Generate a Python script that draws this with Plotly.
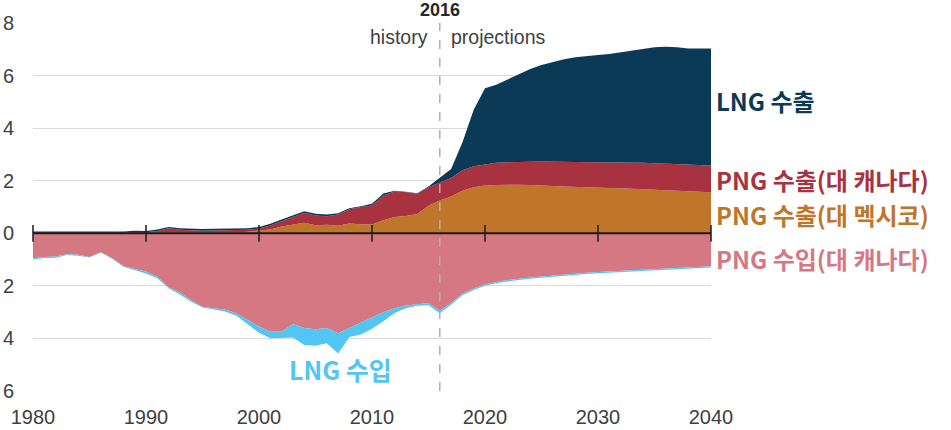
import plotly.graph_objects as go

years = list(range(1980, 2041))

# Exports (Tcf), positive stack
png_export_mexico = [
    0.02, 0.02, 0.02, 0.02, 0.0, 0.0, 0.0, 0.0, 0.0, 0.01,
    0.02, 0.03, 0.04, 0.03, 0.03, 0.03, 0.03, 0.03, 0.03, 0.06,
    0.10, 0.14, 0.26, 0.34, 0.40, 0.31, 0.32, 0.29, 0.37, 0.34,
    0.33, 0.50, 0.62, 0.66, 0.73, 1.05, 1.25, 1.40, 1.62, 1.75,
    1.82, 1.84, 1.85, 1.85, 1.84, 1.83, 1.80, 1.78, 1.76, 1.75,
    1.74, 1.72, 1.71, 1.70, 1.68, 1.66, 1.64, 1.62, 1.60, 1.58,
    1.56]
png_export_canada = [
    0.0, 0.0, 0.0, 0.0, 0.0, 0.0, 0.0, 0.0, 0.02, 0.04,
    0.02, 0.06, 0.15, 0.10, 0.08, 0.07, 0.08, 0.09, 0.08, 0.07,
    0.08, 0.16, 0.20, 0.27, 0.38, 0.37, 0.33, 0.42, 0.54, 0.66,
    0.73, 0.94, 0.97, 0.91, 0.77, 0.70, 0.66, 0.70, 0.78, 0.80,
    0.80, 0.84, 0.85, 0.87, 0.88, 0.90, 0.92, 0.93, 0.94, 0.95,
    0.96, 0.97, 0.98, 0.99, 1.00, 1.00, 1.00, 1.00, 1.00, 1.00,
    1.02]
lng_export = [
    0.05, 0.05, 0.05, 0.05, 0.05, 0.05, 0.05, 0.05, 0.05, 0.05,
    0.05, 0.05, 0.05, 0.06, 0.06, 0.06, 0.06, 0.06, 0.06, 0.06,
    0.06, 0.06, 0.06, 0.07, 0.06, 0.06, 0.06, 0.05, 0.04, 0.03,
    0.06, 0.07, 0.03, 0.01, 0.02, 0.03, 0.20, 0.35, 1.05, 2.15,
    2.90, 2.97, 3.15, 3.33, 3.53, 3.67, 3.80, 3.91, 4.00, 4.05,
    4.08, 4.13, 4.19, 4.26, 4.34, 4.42, 4.46, 4.46, 4.43, 4.45,
    4.45]

# Imports (Tcf), negative stack
png_import_canada = [
    -0.95, -0.90, -0.88, -0.80, -0.82, -0.90, -0.72, -0.95, -1.25, -1.35,
    -1.45, -1.65, -2.05, -2.25, -2.55, -2.80, -2.85, -2.90, -3.05, -3.30,
    -3.55, -3.75, -3.75, -3.45, -3.60, -3.65, -3.60, -3.80, -3.60, -3.40,
    -3.20, -3.00, -2.85, -2.75, -2.70, -2.65, -2.95, -2.65, -2.30, -2.10,
    -1.95, -1.85, -1.78, -1.72, -1.68, -1.64, -1.60, -1.56, -1.52, -1.50,
    -1.47, -1.45, -1.42, -1.40, -1.37, -1.35, -1.33, -1.31, -1.29, -1.27,
    -1.25]
lng_import = [
    -0.05, -0.04, -0.05, -0.03, -0.03, -0.02, -0.01, -0.02, -0.02, -0.04,
    -0.08, -0.06, -0.04, -0.08, -0.05, -0.02, -0.04, -0.08, -0.09, -0.16,
    -0.23, -0.24, -0.23, -0.51, -0.65, -0.63, -0.58, -0.77, -0.35, -0.45,
    -0.43, -0.35, -0.18, -0.10, -0.06, -0.09, -0.09, -0.07, -0.06, -0.06,
    -0.05, -0.05, -0.05, -0.05, -0.05, -0.05, -0.05, -0.05, -0.05, -0.05,
    -0.05, -0.05, -0.05, -0.05, -0.05, -0.05, -0.05, -0.05, -0.05, -0.05,
    -0.05]

x_ticks = [1980, 1990, 2000, 2010, 2020, 2030, 2040]
y_ticks = [-6, -4, -2, 0, 2, 4, 6, 8]
y_ticktext = ["6", "4", "2", "0", "2", "4", "6", "8"]

C_NAVY = "#0b3a56"
C_RED = "#a8323f"
C_ORANGE = "#c0762a"
C_PINK = "#d67882"
C_BLUE = "#52c5f2"

fig = go.Figure()

def area(y, color, group):
    fig.add_trace(go.Scatter(
        x=years, y=y, mode="lines", stackgroup=group,
        line=dict(width=0, color=color), fillcolor=color,
        hoverinfo="skip", showlegend=False))

area(png_export_mexico, C_ORANGE, "pos")
area(png_export_canada, C_RED, "pos")
area(lng_export, C_NAVY, "pos")
area(png_import_canada, C_PINK, "neg")
area(lng_import, C_BLUE, "neg")

# zero line with decade ticks
fig.add_trace(go.Scatter(
    x=x_ticks, y=[0] * len(x_ticks), mode="lines+markers",
    line=dict(color="#1a1a1a", width=2),
    marker=dict(symbol="line-ns-open", size=12, color="#1a1a1a",
                line=dict(width=1.5, color="#1a1a1a")),
    hoverinfo="skip", showlegend=False, cliponaxis=False))

fig.add_shape(type="line", xref="x", yref="paper", x0=2016, x1=2016,
              y0=0, y1=1.0, layer="above",
              line=dict(color="#b0b0b0", width=1.5, dash="dash"))

ann_font = "Noto Sans CJK KR"
fig.add_annotation(x=2016, y=1, xref="x", yref="paper", text="<b>2016</b>",
                   showarrow=False, yanchor="bottom", yshift=1,
                   font=dict(family="Liberation Sans", size=18, color="#262626"))
fig.add_annotation(x=2016, y=1, xref="x", yref="paper", text="history",
                   showarrow=False, xanchor="right", yanchor="top", xshift=-10, yshift=-1,
                   font=dict(family="Liberation Sans", size=19.5, color="#404040"))
fig.add_annotation(x=2016, y=1, xref="x", yref="paper", text="projections",
                   showarrow=False, xanchor="left", yanchor="top", xshift=9, yshift=-1,
                   font=dict(family="Liberation Sans", size=19.5, color="#404040"))

labels = [
    ("LNG 수출", 5.05, C_NAVY),
    ("PNG 수출(대 캐나다)", 2.06, C_RED),
    ("PNG 수출(대 멕시코)", 0.72, C_ORANGE),
    ("PNG 수입(대 캐나다)", -0.95, C_PINK),
]
for txt, yv, col in labels:
    fig.add_annotation(x=2040, y=yv, xref="x", yref="y", text="<b>" + txt + "</b>",
                       showarrow=False, xanchor="left", xshift=4, borderpad=0,
                       font=dict(family=ann_font, size=24, color=col))
fig.add_annotation(x=2007.2, y=-5.15, xref="x", yref="y", text="<b>LNG 수입</b>",
                   showarrow=False, borderpad=0,
                   font=dict(family=ann_font, size=25, color=C_BLUE))

fig.update_layout(
    width=951, height=430,
    margin=dict(l=33, r=240, t=23, b=39),
    plot_bgcolor="white", paper_bgcolor="white",
    font=dict(family="Liberation Sans", size=20, color="#404040"),
    xaxis=dict(range=[1980, 2040], tickvals=x_ticks, showgrid=False,
               zeroline=False, showline=False, ticks="", automargin=False,
               ticklabelstandoff=12,
               tickfont=dict(size=20, color="#404040")),
    yaxis=dict(range=[-6, 8], tickvals=y_ticks, ticktext=y_ticktext,
               showgrid=True, gridcolor="#d9d9d9", gridwidth=1,
               zeroline=False, showline=False, ticks="", automargin=False,
               ticklabelstandoff=18,
               tickfont=dict(size=20, color="#404040")),
)

fig.write_html("out.html")
